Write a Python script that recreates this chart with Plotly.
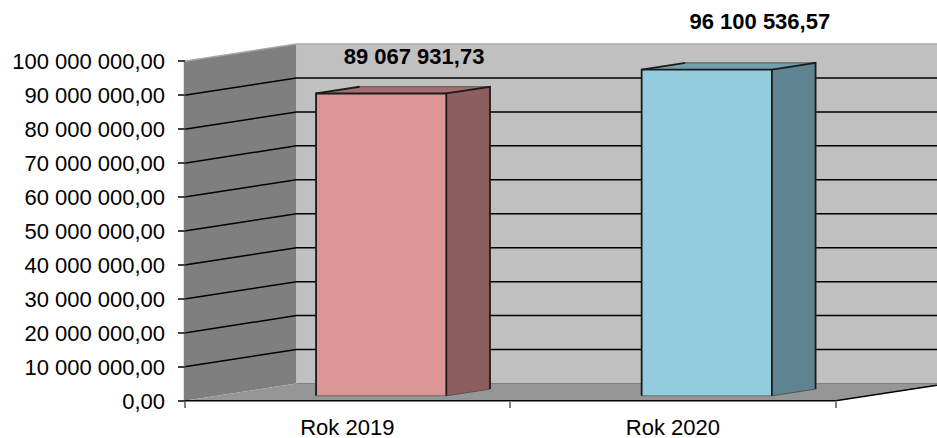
import plotly.graph_objects as go

categories = ["Rok 2019", "Rok 2020"]
values = [89067931.73, 96100536.57]
value_labels = ["89 067 931,73", "96 100 536,57"]
tick_values = [0, 10e6, 20e6, 30e6, 40e6, 50e6, 60e6, 70e6, 80e6, 90e6, 100e6]
tick_labels = ["0,00", "10 000 000,00", "20 000 000,00", "30 000 000,00", "40 000 000,00",
               "50 000 000,00", "60 000 000,00", "70 000 000,00", "80 000 000,00",
               "90 000 000,00", "100 000 000,00"]
cat_pos = [1, 2]
label_x = [1.205, 2.267]
label_y = [100.97e6, 110.99e6]
front_colors = ["#d99694", "#93cddd"]
side_colors = ["#8c5e5d", "#5d8490"]
top_colors = ["#a66f6e", "#70a0ae"]

W, H = 937, 438
X0, UNIT = 184.5, 325.6       # pixel of category edge 0.5, pixels per category
Y0, PPV = 400.8, 3.395e-6     # pixel of value 0, pixels per value unit
DX = 112 / UNIT               # oblique depth vector in axis units
DV = 17.3 / PPV
BAR_W = 0.4
BAR_SHIFT = 0.006
D_FRONT, D_BACK = 0.285, 0.675
X_END = 2.5


def p(c, v, d=0.0):
    return c + d * DX, v + d * DV


def poly(points, color, name=None):
    return go.Scatter(x=[q[0] for q in points] + [points[0][0]],
                      y=[q[1] for q in points] + [points[0][1]],
                      mode="lines", fill="toself", fillcolor=color,
                      line=dict(width=0, color=color), hoverinfo="skip", showlegend=False)


def stroke(segments, color="#000000", width=1.5):
    xs, ys = [], []
    for seg in segments:
        xs += [q[0] for q in seg] + [None]
        ys += [q[1] for q in seg] + [None]
    return go.Scatter(x=xs, y=ys, mode="lines", line=dict(color=color, width=width),
                      hoverinfo="skip", showlegend=False)


fig = go.Figure()
top_v = tick_values[-1]

# walls and floor
fig.add_trace(poly([p(.5, 0), p(.5, 0, 1), p(.5, top_v, 1), p(.5, top_v)], "#7f7f7f"))
fig.add_trace(poly([p(.5, 0, 1), p(X_END, 0, 1), p(X_END, top_v, 1), p(.5, top_v, 1)], "#c0c0c0"))
fig.add_trace(poly([p(.5, 0), p(X_END, 0), p(X_END, 0, 1), p(.5, 0, 1)], "#969696"))
fig.add_trace(stroke([[p(.5, top_v), p(.5, top_v, 1), p(X_END, top_v, 1)]], "#a6a6a6", 1.5))
fig.add_trace(stroke([[p(.5, 0, 1), p(X_END, 0, 1)]], "#808080", 1))

# gridlines
fig.add_trace(stroke([[p(.5, v), p(.5, v, 1), p(X_END, v, 1)] for v in tick_values[1:-1]]))

# bars
for c, v, fc, sc, tc in zip(cat_pos, values, front_colors, side_colors, top_colors):
    l, r = c + BAR_SHIFT - BAR_W / 2, c + BAR_SHIFT + BAR_W / 2
    fig.add_trace(poly([p(r, 0, D_FRONT), p(r, 0, D_BACK), p(r, v, D_BACK), p(r, v, D_FRONT)], sc))
    fig.add_trace(poly([p(l, v, D_FRONT), p(r, v, D_FRONT), p(r, v, D_BACK), p(l, v, D_BACK)], tc))
    fig.add_trace(poly([p(l, 0, D_FRONT), p(r, 0, D_FRONT), p(r, v, D_FRONT), p(l, v, D_FRONT)], fc))
    fig.add_trace(stroke([[p(l, v, D_BACK), p(r, v, D_BACK)],
                          [p(r, 0, D_FRONT), p(r, 0, D_BACK)]], "#555555", 1))
    fig.add_trace(stroke([[p(l, 0, D_FRONT), p(r, 0, D_FRONT)]], "#6b6b6b", 1))
    fig.add_trace(stroke([[p(l, 0, D_FRONT), p(l, v, D_FRONT), p(r, v, D_FRONT), p(r, 0, D_FRONT)],
                          [p(l, v, D_FRONT), p(l, v, D_BACK)],
                          [p(r, v, D_FRONT), p(r, v, D_BACK), p(r, 0, D_BACK)]], "#1a1a1a", 1.8))

# axis lines
fig.add_trace(stroke([[p(.5, 0), p(.5, top_v)]], "#808080", 1.5))
fig.add_trace(stroke([[p(.5, 0), p(X_END, 0), p(X_END, 0, 1)]], "#000000", 1.5))

# value labels
fig.add_trace(go.Scatter(x=label_x, y=label_y, text=value_labels, mode="text",
                         textposition="middle center",
                         textfont=dict(family="Liberation Sans", size=22, color="#000000", weight="bold"),
                         hoverinfo="skip", showlegend=False))

fig.update_layout(
    width=W, height=H, autosize=False,
    margin=dict(l=0, r=0, t=0, b=0, autoexpand=False),
    paper_bgcolor="#ffffff", plot_bgcolor="#ffffff",
    showlegend=False, hovermode=False,
    font=dict(family="Liberation Sans", color="#000000"),
    xaxis=dict(
        domain=[0, 1], range=[.5 - X0 / UNIT, .5 + (W - X0) / UNIT],
        anchor="free", position=(H - Y0) / H, automargin=False,
        tickvals=cat_pos, ticktext=categories, ticks="outside", ticklen=0,
        ticklabelstandoff=7,
        minor=dict(tickvals=[.5, 1.5, 2.5], ticks="outside", ticklen=6, tickcolor="#808080", tickwidth=1.5),
        tickfont=dict(size=22, family="Liberation Sans"),
        showgrid=False, zeroline=False, showline=False,
    ),
    yaxis=dict(
        domain=[0, 1], range=[(Y0 - H) / PPV, Y0 / PPV],
        anchor="free", position=X0 / W, automargin=False,
        tickvals=tick_values, ticktext=tick_labels, ticks="outside", ticklen=7,
        ticklabelstandoff=8,
        tickcolor="#404040", tickwidth=1.5,
        tickfont=dict(size=22, family="Liberation Sans"),
        showgrid=False, zeroline=False, showline=False,
    ),
)
fig.write_html("out.html", config={"displayModeBar": False},
               post_script="document.body.style.margin='0';")
